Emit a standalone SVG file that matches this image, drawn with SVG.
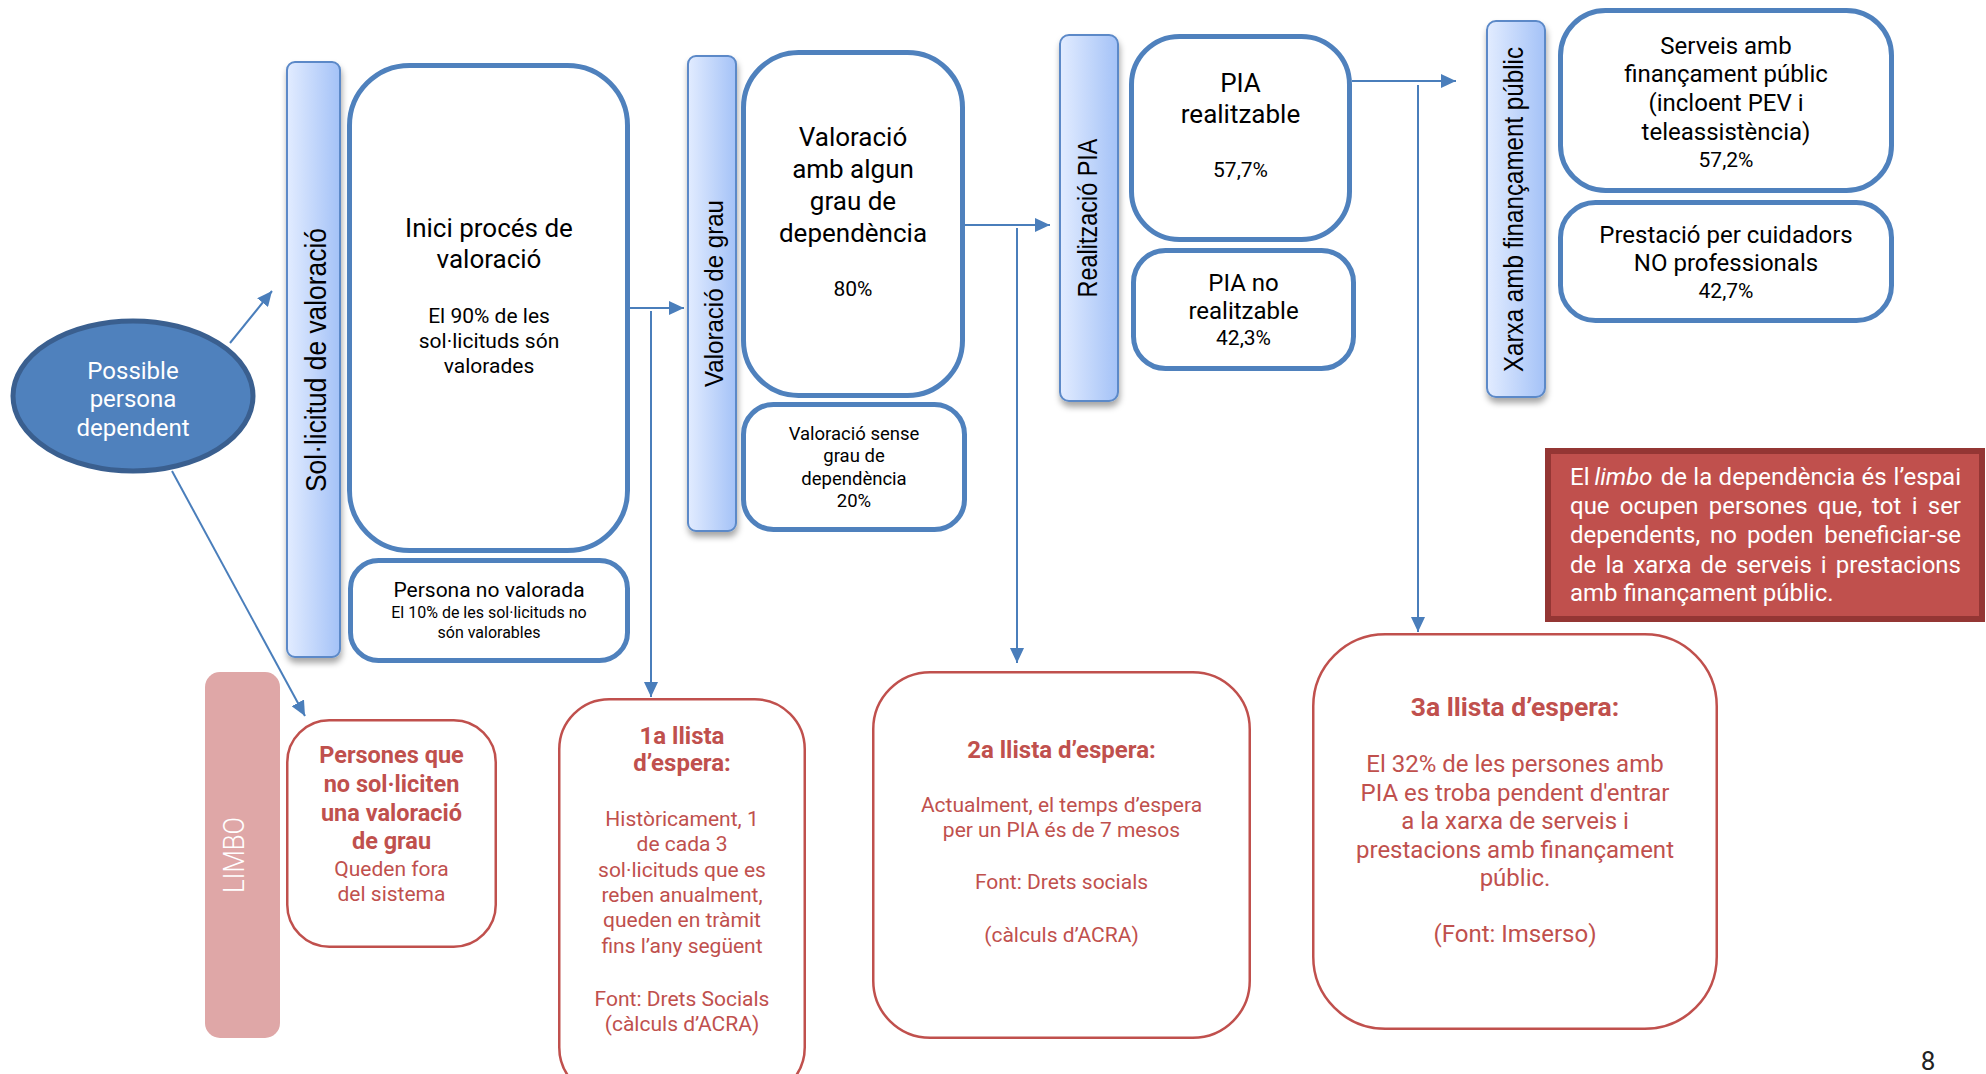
<svg xmlns="http://www.w3.org/2000/svg" width="1986" height="1074" viewBox="0 0 1986 1074">
<defs>
<linearGradient id="barg" x1="0" y1="0" x2="1" y2="0">
<stop offset="0" stop-color="#E2ECFF"/>
<stop offset="1" stop-color="#A4C2F7"/>
</linearGradient>
<filter id="sh" x="-30%" y="-5%" width="160%" height="115%">
<feDropShadow dx="1" dy="5" stdDeviation="3" flood-color="#000" flood-opacity="0.35"/>
</filter>
<marker id="ah" markerUnits="userSpaceOnUse" markerWidth="16" markerHeight="14" refX="15" refY="7" orient="auto">
<path d="M0,0 L15,7 L0,14 z" fill="#4A7EBB"/>
</marker>
<style>
.bx{fill:#fff;stroke:#4F81BD;stroke-width:5}
.rb{fill:#fff;stroke:#C0504D;stroke-width:2.5}
.bar{fill:url(#barg);stroke:#5B89C8;stroke-width:2;filter:url(#sh)}
.t{font-family:Roboto,"Liberation Sans",sans-serif;fill:#000;text-anchor:middle}
.vt{font-family:"Liberation Sans",Arial,sans-serif;fill:#000;text-anchor:middle}
.r{font-family:Roboto,"Liberation Sans",sans-serif;fill:#C0504D;text-anchor:middle}
.rbold{font-weight:bold}
.w{font-family:Roboto,"Liberation Sans",sans-serif;fill:#fff;font-size:24px}
.we{font-family:Roboto,"Liberation Sans",sans-serif;fill:#fff;font-size:24px;text-anchor:end}
.cn{stroke:#4A7EBB;stroke-width:2;fill:none}
</style>
</defs>

<g id="connectors">
<line class="cn" x1="230" y1="343" x2="272" y2="291" marker-end="url(#ah)"/>
<line class="cn" x1="172" y1="471" x2="305" y2="716" marker-end="url(#ah)"/>
<line class="cn" x1="630" y1="308" x2="684" y2="308" marker-end="url(#ah)"/>
<line class="cn" x1="651" y1="311" x2="651" y2="697" marker-end="url(#ah)"/>
<line class="cn" x1="965" y1="225" x2="1050" y2="225" marker-end="url(#ah)"/>
<line class="cn" x1="1017" y1="228" x2="1017" y2="663" marker-end="url(#ah)"/>
<line class="cn" x1="1352" y1="81" x2="1456" y2="81" marker-end="url(#ah)"/>
<line class="cn" x1="1418" y1="85" x2="1418" y2="632" marker-end="url(#ah)"/>
</g>

<g id="possible-persona">
<ellipse cx="133" cy="396" rx="120" ry="75" fill="#4F81BD" stroke="#3A5F8F" stroke-width="5"/>
<text class="w" text-anchor="middle"><tspan x="133" y="379">Possible</tspan><tspan x="133" y="407">persona</tspan><tspan x="133" y="436">dependent</tspan></text>
</g>

<g id="bar-sollicitud">
<rect class="bar" x="287" y="62" width="53" height="595" rx="8"/>
<text class="vt" font-size="29" textLength="264" lengthAdjust="spacingAndGlyphs" transform="translate(326,360) rotate(-90)" x="0" y="0">Sol·licitud de valoració</text>
</g>

<g id="inici-proces">
<rect class="bx" x="349.5" y="65.5" width="278" height="485" rx="60"/>
<text class="t" font-size="26"><tspan x="489" y="237">Inici procés de</tspan><tspan x="489" y="268">valoració</tspan></text>
<text class="t" font-size="21"><tspan x="489" y="323">El 90% de les</tspan><tspan x="489" y="348">sol·licituds són</tspan><tspan x="489" y="373">valorades</tspan></text>
</g>

<g id="persona-no-valorada">
<rect class="bx" x="350.5" y="560.5" width="277" height="100" rx="28"/>
<text class="t" font-size="21" x="489" y="597">Persona no valorada</text>
<text class="t" font-size="16"><tspan x="489" y="618">El 10% de les sol·licituds no</tspan><tspan x="489" y="638">són valorables</tspan></text>
</g>

<g id="bar-valoracio-grau">
<rect class="bar" x="688" y="56" width="48" height="475" rx="8"/>
<text class="vt" font-size="26" textLength="187" lengthAdjust="spacingAndGlyphs" transform="translate(723,293.5) rotate(-90)" x="0" y="0">Valoració de grau</text>
</g>

<g id="valoracio-amb-grau">
<rect class="bx" x="743.5" y="52.5" width="219" height="343" rx="55"/>
<text class="t" font-size="26"><tspan x="853" y="146">Valoració</tspan><tspan x="853" y="178">amb algun</tspan><tspan x="853" y="210">grau de</tspan><tspan x="853" y="242">dependència</tspan></text>
<text class="t" font-size="21" x="853" y="296">80%</text>
</g>

<g id="valoracio-sense-grau">
<rect class="bx" x="743.5" y="404.5" width="221" height="125" rx="30"/>
<text class="t" font-size="18.5"><tspan x="854" y="440">Valoració sense</tspan><tspan x="854" y="462">grau de</tspan><tspan x="854" y="485">dependència</tspan><tspan x="854" y="507">20%</tspan></text>
</g>

<g id="bar-realitzacio-pia">
<rect class="bar" x="1060" y="35" width="58" height="366" rx="9"/>
<text class="vt" font-size="27" textLength="159" lengthAdjust="spacingAndGlyphs" transform="translate(1097,218) rotate(-90)" x="0" y="0">Realització PIA</text>
</g>

<g id="pia-realitzable">
<rect class="bx" x="1131.5" y="36.5" width="218" height="203" rx="48"/>
<text class="t" font-size="26"><tspan x="1240.5" y="92">PIA</tspan><tspan x="1240.5" y="123">realitzable</tspan></text>
<text class="t" font-size="21" x="1240.5" y="177">57,7%</text>
</g>

<g id="pia-no-realitzable">
<rect class="bx" x="1133.5" y="250.5" width="220" height="118" rx="32"/>
<text class="t" font-size="24"><tspan x="1243.5" y="291">PIA no</tspan><tspan x="1243.5" y="319">realitzable</tspan></text>
<text class="t" font-size="21" x="1243.5" y="345">42,3%</text>
</g>

<g id="bar-xarxa">
<rect class="bar" x="1487" y="21" width="58" height="376" rx="9"/>
<text class="vt" font-size="27" textLength="325" lengthAdjust="spacingAndGlyphs" transform="translate(1523,209.5) rotate(-90)" x="0" y="0">Xarxa amb finançament públic</text>
</g>

<g id="serveis">
<rect class="bx" x="1560.5" y="10.5" width="331" height="180" rx="45"/>
<text class="t" font-size="24"><tspan x="1726" y="54">Serveis amb</tspan><tspan x="1726" y="82">finançament públic</tspan><tspan x="1726" y="111">(incloent PEV i</tspan><tspan x="1726" y="140">teleassistència)</tspan></text>
<text class="t" font-size="21" x="1726" y="167">57,2%</text>
</g>

<g id="prestacio">
<rect class="bx" x="1560.5" y="202.5" width="331" height="118" rx="35"/>
<text class="t" font-size="24"><tspan x="1726" y="243">Prestació per cuidadors</tspan><tspan x="1726" y="271">NO professionals</tspan></text>
<text class="t" font-size="21" x="1726" y="298">42,7%</text>
</g>

<g id="limbo-nota">
<rect x="1548" y="451" width="434" height="168" fill="#C0504D" stroke="#943634" stroke-width="6"/>
<text class="w">
<tspan x="1570" y="485">El</tspan><tspan x="1594.5" y="485" font-style="italic">limbo</tspan><tspan x="1660.7" y="485">de</tspan><tspan x="1693.3" y="485">la</tspan><tspan x="1718.6" y="485">dependència</tspan><tspan x="1861.5" y="485">és</tspan>
<tspan x="1570" y="514">que</tspan><tspan x="1619.7" y="514">ocupen</tspan><tspan x="1708.8" y="514">persones</tspan><tspan x="1817.8" y="514">que,</tspan><tspan x="1872.1" y="514">tot</tspan><tspan x="1911.8" y="514">i</tspan>
<tspan x="1570" y="543">dependents,</tspan><tspan x="1710" y="543">no</tspan><tspan x="1746.9" y="543">poden</tspan>
<tspan x="1570" y="573">de</tspan><tspan x="1605.4" y="573">la</tspan><tspan x="1633.4" y="573">xarxa</tspan><tspan x="1700.6" y="573">de</tspan><tspan x="1735.9" y="573">serveis</tspan><tspan x="1820.8" y="573">i</tspan>
<tspan x="1570" y="601">amb finançament públic.</tspan>
</text>
<text class="we"><tspan x="1961" y="485">l’espai</tspan><tspan x="1961" y="514">ser</tspan><tspan x="1961" y="543">beneficiar-se</tspan><tspan x="1961" y="573">prestacions</tspan></text>
</g>

<g id="limbo">
<rect x="205" y="672" width="75" height="366" rx="15" fill="#DFA7A7"/>
<text font-family="Roboto, 'Liberation Sans', sans-serif" font-weight="300" fill="#fff" text-anchor="middle" font-size="29" textLength="76" lengthAdjust="spacingAndGlyphs" transform="translate(244,855) rotate(-90)" x="0" y="0">LIMBO</text>
</g>

<g id="persones-no-sol">
<rect class="rb" x="287.25" y="720.25" width="208.5" height="226.5" rx="42"/>
<text class="r rbold" font-size="23.5"><tspan x="391.5" y="763">Persones que</tspan><tspan x="391.5" y="792">no sol·liciten</tspan><tspan x="391.5" y="821">una valoració</tspan><tspan x="391.5" y="849">de grau</tspan></text>
<text class="r" font-size="21"><tspan x="391.5" y="876">Queden fora</tspan><tspan x="391.5" y="901">del sistema</tspan></text>
</g>

<g id="llista-1">
<rect class="rb" x="559.25" y="699.25" width="245.5" height="398" rx="50"/>
<text class="r rbold" font-size="24"><tspan x="682" y="744">1a llista</tspan><tspan x="682" y="771">d’espera:</tspan></text>
<text class="r" font-size="21"><tspan x="682" y="826">Històricament, 1</tspan><tspan x="682" y="851">de cada 3</tspan><tspan x="682" y="877">sol·licituds que es</tspan><tspan x="682" y="902">reben anualment,</tspan><tspan x="682" y="927">queden en tràmit</tspan><tspan x="682" y="953">fins l’any següent</tspan><tspan x="682" y="1006">Font: Drets Socials</tspan><tspan x="682" y="1031">(càlculs d’ACRA)</tspan></text>
</g>

<g id="llista-2">
<rect class="rb" x="873.25" y="672.25" width="376.5" height="365.5" rx="57"/>
<text class="r rbold" font-size="24" x="1061.5" y="758">2a llista d’espera:</text>
<text class="r" font-size="21"><tspan x="1061.5" y="812">Actualment, el temps d’espera</tspan><tspan x="1061.5" y="837">per un PIA és de 7 mesos</tspan><tspan x="1061.5" y="889">Font: Drets socials</tspan><tspan x="1061.5" y="942">(càlculs d’ACRA)</tspan></text>
</g>

<g id="llista-3">
<rect class="rb" x="1313.25" y="634.25" width="403.5" height="394.5" rx="72"/>
<text class="r rbold" font-size="26.5" x="1515" y="716">3a llista d’espera:</text>
<text class="r" font-size="24"><tspan x="1515" y="772">El 32% de les persones amb</tspan><tspan x="1515" y="801">PIA es troba pendent d'entrar</tspan><tspan x="1515" y="829">a la xarxa de serveis i</tspan><tspan x="1515" y="858">prestacions amb finançament</tspan><tspan x="1515" y="886">públic.</tspan><tspan x="1515" y="942">(Font: Imserso)</tspan></text>
</g>

<text font-family="Roboto, 'Liberation Sans', sans-serif" font-size="26" fill="#222" x="1928" y="1070" text-anchor="middle">8</text>
</svg>
